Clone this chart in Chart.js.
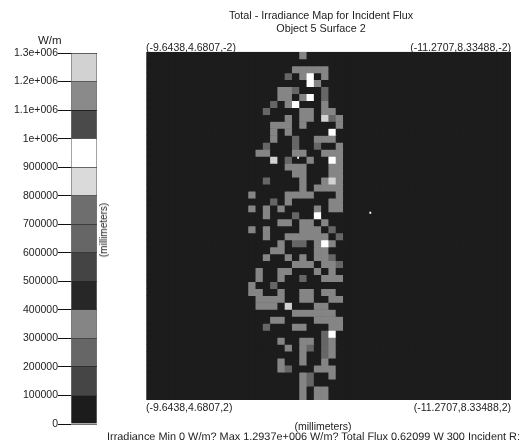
<!DOCTYPE html>
<html>
<head>
<meta charset="utf-8">
<title>Irradiance Map</title>
<script src="https://cdn.jsdelivr.net/npm/chart.js@4/dist/chart.umd.min.js"></script>
<style>
  html, body { margin: 0; padding: 0; background: #fff; }
  body { position: relative; width: 527px; height: 445px; overflow: hidden; font-family: "Liberation Sans", Arial, sans-serif; color: #222; }
  canvas { position: absolute; top: 0; }
  .lbl { position: absolute; white-space: nowrap; font-size: 10.5px; line-height: 12px; }
</style>
</head>
<body>
<canvas id="bar" style="left:0;width:115px;height:445px" width="115" height="445"></canvas>
<canvas id="map" style="left:127px;width:388px;height:445px" width="388" height="445"></canvas>

<div class="lbl" style="left:38px;top:34px;font-size:11.5px">W/m</div>
<div class="lbl" style="left:104px;top:230px;font-size:10px;transform:translate(-50%,-50%) rotate(-90deg)" id="sideUnit"></div>
<div class="lbl" style="left:146px;top:41px" id="cornerTL"></div>
<div class="lbl" style="right:16px;top:41px" id="cornerTR"></div>
<div class="lbl" style="left:146px;top:401px" id="cornerBL"></div>
<div class="lbl" style="right:16px;top:401px" id="cornerBR"></div>
<div class="lbl" style="left:323px;top:420px;transform:translateX(-50%)" id="bottomUnit"></div>
<div class="lbl" style="left:107px;top:431px;font-size:10.9px;text-rendering:geometricPrecision" id="footer"></div>

<script>
"use strict";

const titleLines = ["Total - Irradiance Map for Incident Flux", "Object 5 Surface 2"];
const unitLabel = "(millimeters)";
const corners = ["(-9.6438,4.6807,-2)", "(-11.2707,8.33488,-2)", "(-9.6438,4.6807,2)", "(-11.2707,8.33488,2)"];
const footerText = "Irradiance Min 0 W/m? Max 1.2937e+006 W/m? Total Flux 0.62099 W 300 Incident R:";

// colour bar, bottom band first, each band is 100000 W/m
const bandStep = 100000;
const bandColors = ["#1c1c1c", "#454545", "#666666", "#858585", "#272727", "#444444", "#666666", "#6e6e6e",
  "#dadada", "#ffffff", "#4a4a4a", "#8a8a8a", "#d2d2d2"];
const tickLabels = { 1300000: "1.3e+006", 1200000: "1.2e+006", 1100000: "1.1e+006", 1000000: "1e+006" };

// map cells, top row first. the strings are columns 12 to 27, other columns are empty.
// . = band 0, otherwise the band number in hex
const firstColumn = 12;
const gridSize = 50;
const cellRows = [
  ".........3......",
  "................",
  "........33333...",
  ".......2.39.3...",
  "..........93....",
  "......332...2...",
  "......33.39.2...",
  ".....2.39...3...",
  "....2....33.33..",
  ".......3.33.C23.",
  ".....333.3....3.",
  ".....3.3.....9..",
  ".....3..2..333..",
  "....2...2..2..3.",
  "...33...33..333.",
  ".....C.2..3..93.",
  ".......333...33.",
  "........33...33.",
  "....2....3..3C3.",
  ".........3.3333.",
  "..3....3333...3.",
  ".....2.3.....33.",
  "..3.3.3....3.33.",
  "....3...2..9....",
  "......33.33.3...",
  "..3.3....333.2..",
  "....3..333333.2.",
  "......3.22.393..",
  ".....33....33...",
  "....3..3.3.332..",
  "........333.332.",
  "...3..33...3.3..",
  "...3..3..2..333.",
  "..3..2..........",
  "..33..3..33.33..",
  "...3333..33..33.",
  "...333.C...33...",
  "........333333..",
  ".....33....3333.",
  "....2...33...33.",
  "............29..",
  "......3..33.23..",
  ".......3.32.23..",
  ".........3..23..",
  "......3..3..3...",
  "......32...333..",
  ".........32..3..",
  ".........32.....",
  ".........3.33...",
  ".........3.33..."
];
// two tiny hot spots that are smaller than a cell, in cell units from the bottom left
const specks = [{ x: 20.8, y: 34.8 }, { x: 30.7, y: 26.9 }];

const inkColor = "#222222";
const fontFamily = '"Liberation Sans", Arial, sans-serif';

document.getElementById("sideUnit").textContent = unitLabel;
document.getElementById("bottomUnit").textContent = unitLabel;
document.getElementById("cornerTL").textContent = corners[0];
document.getElementById("cornerTR").textContent = corners[1];
document.getElementById("cornerBL").textContent = corners[2];
document.getElementById("cornerBR").textContent = corners[3];
document.getElementById("footer").textContent = footerText;

// ---- colour bar
new Chart(document.getElementById("bar"), {
  type: "bar",
  data: {
    labels: ["W/m"],
    datasets: bandColors.map(function (color) {
      return {
        data: [bandStep],
        backgroundColor: color,
        borderColor: "#777777",
        borderWidth: { left: 1, right: 1 },
        borderSkipped: false,
        barPercentage: 1,
        categoryPercentage: 1
      };
    })
  },
  options: {
    responsive: false,
    animation: false,
    layout: { padding: { top: 53, bottom: 21, right: 18 } },
    plugins: { legend: { display: false }, tooltip: { enabled: false } },
    scales: {
      x: { stacked: true, display: false },
      y: {
        stacked: true,
        min: 0,
        max: bandStep * bandColors.length,
        afterFit: function (scale) { scale.width = 71; },
        border: { display: false },
        grid: { color: "rgba(0,0,0,0.55)", tickColor: "#111111", tickLength: 13, z: 1 },
        ticks: {
          stepSize: bandStep,
          padding: 0,
          color: inkColor,
          font: { family: fontFamily, size: 10.5 },
          callback: function (value) { return tickLabels[value] || String(value); }
        }
      }
    }
  }
});

// ---- irradiance map, each row is a dataset of floating bars
const columns = [];
for (let c = 0; c < gridSize; c++) columns.push(String(c));

function bandAt(row, col) {
  const ch = cellRows[row].charAt(col - firstColumn);
  return ch === "" || ch === "." ? 0 : parseInt(ch, 16);
}

const rowSets = cellRows.map(function (cells, row) {
  const bottom = gridSize - 1 - row;
  return {
    data: columns.map(function () { return [bottom, bottom + 1]; }),
    backgroundColor: columns.map(function (c, col) { return bandColors[bandAt(row, col)]; }),
    barPercentage: 1,
    categoryPercentage: 1,
    grouped: false,
    order: 2
  };
});

rowSets.push({
  type: "scatter",
  data: specks,
  xAxisID: "xCell",
  backgroundColor: "#ffffff",
  borderWidth: 0,
  pointStyle: "rect",
  pointRadius: 1.3,
  order: 1
});

new Chart(document.getElementById("map"), {
  type: "bar",
  data: { labels: columns, datasets: rowSets },
  options: {
    responsive: false,
    animation: false,
    layout: { padding: { top: 0, bottom: 45 } },
    plugins: {
      legend: { display: false },
      tooltip: { enabled: false },
      title: {
        display: true,
        text: titleLines,
        color: inkColor,
        font: { family: fontFamily, size: 10.8, weight: "normal", lineHeight: 1.2 },
        padding: { top: 10, bottom: 16 }
      }
    },
    scales: {
      x: { display: false },
      xCell: { type: "linear", display: false, min: 0, max: gridSize, offset: false },
      y: {
        min: 0,
        max: gridSize,
        afterFit: function (scale) { scale.width = 19.5; },
        border: { display: false },
        grid: { display: false },
        ticks: { display: false }
      }
    }
  },
  plugins: [{
    id: "mapBackground",
    beforeDatasetsDraw: function (chart) {
      const a = chart.chartArea;
      chart.ctx.fillStyle = bandColors[0];
      chart.ctx.fillRect(a.left, a.top, a.right - a.left, a.bottom - a.top);
    }
  }]
});
</script>
</body>
</html>
